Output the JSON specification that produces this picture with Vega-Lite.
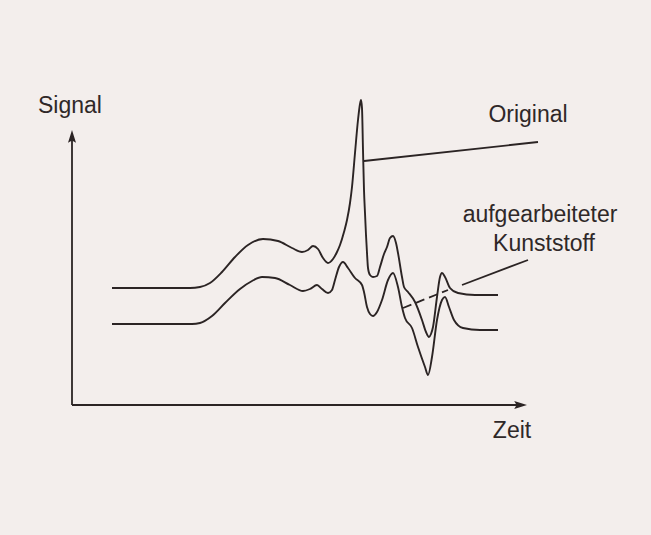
{
  "$schema": "https://vega.github.io/schema/vega-lite/v6.json",
  "width": 651,
  "height": 535,
  "padding": 0,
  "autosize": {"type": "none"},
  "background": "#f3eeec",
  "config": {"view": {"stroke": null}},
  "datasets": {
    "curves": [
      {"series":"Original","i":1,"t":40,"s":117},{"series":"Original","i":2,"t":118,"s":117},{"series":"Original","i":3,"t":128,"s":118},{"series":"Original","i":4,"t":138,"s":122},{"series":"Original","i":5,"t":150,"s":133},{"series":"Original","i":6,"t":163,"s":148},{"series":"Original","i":7,"t":176,"s":160},{"series":"Original","i":8,"t":191,"s":166},{"series":"Original","i":9,"t":206,"s":164},{"series":"Original","i":10,"t":220,"s":157},{"series":"Original","i":11,"t":230,"s":153},{"series":"Original","i":12,"t":236,"s":155},{"series":"Original","i":13,"t":241,"s":159},{"series":"Original","i":14,"t":246,"s":156},{"series":"Original","i":15,"t":251,"s":147},{"series":"Original","i":16,"t":256,"s":142},{"series":"Original","i":17,"t":261,"s":146},{"series":"Original","i":18,"t":265,"s":153},{"series":"Original","i":19,"t":268,"s":160},{"series":"Original","i":20,"t":272,"s":173},{"series":"Original","i":21,"t":275,"s":185},{"series":"Original","i":22,"t":278,"s":202},{"series":"Original","i":23,"t":280,"s":218},{"series":"Original","i":24,"t":283,"s":252},{"series":"Original","i":25,"t":286,"s":285},{"series":"Original","i":26,"t":288,"s":301},{"series":"Original","i":27,"t":289,"s":305},{"series":"Original","i":28,"t":290,"s":297},{"series":"Original","i":29,"t":291,"s":255},{"series":"Original","i":30,"t":292,"s":215},{"series":"Original","i":31,"t":293,"s":192},{"series":"Original","i":32,"t":294,"s":170},{"series":"Original","i":33,"t":295,"s":152},{"series":"Original","i":34,"t":296,"s":137},{"series":"Original","i":35,"t":298,"s":130},{"series":"Original","i":36,"t":301,"s":128},{"series":"Original","i":37,"t":305,"s":129},{"series":"Original","i":38,"t":308,"s":138},{"series":"Original","i":39,"t":312,"s":151},{"series":"Original","i":40,"t":315,"s":158},{"series":"Original","i":41,"t":318,"s":167},{"series":"Original","i":42,"t":321,"s":169},{"series":"Original","i":43,"t":324,"s":162},{"series":"Original","i":44,"t":326,"s":152},{"series":"Original","i":45,"t":330,"s":128},{"series":"Original","i":46,"t":332,"s":118},{"series":"Original","i":47,"t":336,"s":113},{"series":"Original","i":48,"t":343,"s":103},{"series":"Original","i":49,"t":350,"s":85},{"series":"Original","i":50,"t":354,"s":73},{"series":"Original","i":51,"t":357,"s":68},{"series":"Original","i":52,"t":359,"s":71},{"series":"Original","i":53,"t":361,"s":78},{"series":"Original","i":54,"t":365,"s":108},{"series":"Original","i":55,"t":368,"s":128},{"series":"Original","i":56,"t":370,"s":132},{"series":"Original","i":57,"t":373,"s":128},{"series":"Original","i":58,"t":378,"s":117},{"series":"Original","i":59,"t":386,"s":112},{"series":"Original","i":60,"t":403,"s":110},{"series":"Original","i":61,"t":426,"s":110},
      {"series":"Recycling","i":1,"t":40,"s":81},{"series":"Recycling","i":2,"t":120,"s":81},{"series":"Recycling","i":3,"t":128,"s":82},{"series":"Recycling","i":4,"t":140,"s":89},{"series":"Recycling","i":5,"t":153,"s":102},{"series":"Recycling","i":6,"t":168,"s":116},{"series":"Recycling","i":7,"t":180,"s":124},{"series":"Recycling","i":8,"t":190,"s":128},{"series":"Recycling","i":9,"t":203,"s":127},{"series":"Recycling","i":10,"t":218,"s":120},{"series":"Recycling","i":11,"t":231,"s":114},{"series":"Recycling","i":12,"t":238,"s":116},{"series":"Recycling","i":13,"t":245,"s":120},{"series":"Recycling","i":14,"t":250,"s":116},{"series":"Recycling","i":15,"t":256,"s":112},{"series":"Recycling","i":16,"t":260,"s":115},{"series":"Recycling","i":17,"t":263,"s":125},{"series":"Recycling","i":18,"t":267,"s":138},{"series":"Recycling","i":19,"t":271,"s":143},{"series":"Recycling","i":20,"t":276,"s":137},{"series":"Recycling","i":21,"t":283,"s":127},{"series":"Recycling","i":22,"t":290,"s":120},{"series":"Recycling","i":23,"t":292,"s":113},{"series":"Recycling","i":24,"t":295,"s":98},{"series":"Recycling","i":25,"t":298,"s":91},{"series":"Recycling","i":26,"t":301,"s":89},{"series":"Recycling","i":27,"t":305,"s":93},{"series":"Recycling","i":28,"t":310,"s":105},{"series":"Recycling","i":29,"t":316,"s":125},{"series":"Recycling","i":30,"t":321,"s":132},{"series":"Recycling","i":31,"t":326,"s":118},{"series":"Recycling","i":32,"t":330,"s":98},{"series":"Recycling","i":33,"t":333,"s":87},{"series":"Recycling","i":34,"t":340,"s":77},{"series":"Recycling","i":35,"t":346,"s":58},{"series":"Recycling","i":36,"t":353,"s":38},{"series":"Recycling","i":37,"t":356,"s":30},{"series":"Recycling","i":38,"t":360,"s":48},{"series":"Recycling","i":39,"t":365,"s":85},{"series":"Recycling","i":40,"t":370,"s":105},{"series":"Recycling","i":41,"t":373,"s":108},{"series":"Recycling","i":42,"t":377,"s":98},{"series":"Recycling","i":43,"t":382,"s":85},{"series":"Recycling","i":44,"t":391,"s":77},{"series":"Recycling","i":45,"t":408,"s":75},{"series":"Recycling","i":46,"t":426,"s":75}
    ],
    "leaders": [
      {"kind":"solid","t":292,"s":244,"t2":466,"s2":263},
      {"kind":"dashed","t":331,"s":97,"t2":376,"s2":115},
      {"kind":"solid","t":390,"s":120,"t2":456,"s2":145}
    ],
    "axes": [
      {"t":0,"s":0,"t2":0,"s2":270},
      {"t":0,"s":0,"t2":452,"s2":0}
    ],
    "arrows": [
      {"dir":"up","t":0,"s":267},
      {"dir":"right","t":447,"s":0}
    ],
    "labels": [
      {"text":"Signal","t":-2,"s":292},
      {"text":"Original","t":456,"s":283},
      {"text":"aufgearbeiteter","t":468,"s":183},
      {"text":"Kunststoff","t":472,"s":154},
      {"text":"Zeit","t":440,"s":-33}
    ]
  },
  "encoding": {
    "x": {"field":"t","type":"quantitative","scale":{"domain":[-72,579],"nice":false,"zero":false},"axis":null},
    "y": {"field":"s","type":"quantitative","scale":{"domain":[-130,405],"nice":false,"zero":false},"axis":null}
  },
  "layer": [
    {
      "data": {"name":"axes"},
      "mark": {"type":"rule","color":"#2b2424","strokeWidth":1.8},
      "encoding": {"x2":{"field":"t2"},"y2":{"field":"s2"}}
    },
    {
      "data": {"name":"arrows"},
      "transform": [{"filter":"datum.dir === 'up'"}],
      "mark": {"type":"point","filled":true,"color":"#2b2424","opacity":1,"size":256,"shape":"M0,-1L0.5,0.6L0,0.3L-0.5,0.6Z"},
      "encoding": {}
    },
    {
      "data": {"name":"arrows"},
      "transform": [{"filter":"datum.dir === 'right'"}],
      "mark": {"type":"point","filled":true,"color":"#2b2424","opacity":1,"size":256,"shape":"M1,0L-0.6,0.5L-0.3,0L-0.6,-0.5Z"},
      "encoding": {}
    },
    {
      "data": {"name":"curves"},
      "mark": {"type":"line","interpolate":"monotone","color":"#2b2424","strokeWidth":1.9},
      "encoding": {"detail":{"field":"series"},"order":{"field":"i","type":"quantitative"}}
    },
    {
      "data": {"name":"leaders"},
      "transform": [{"filter":"datum.kind === 'solid'"}],
      "mark": {"type":"rule","color":"#2b2424","strokeWidth":1.8},
      "encoding": {"x2":{"field":"t2"},"y2":{"field":"s2"}}
    },
    {
      "data": {"name":"leaders"},
      "transform": [{"filter":"datum.kind === 'dashed'"}],
      "mark": {"type":"rule","color":"#2b2424","strokeWidth":1.8,"strokeDash":[9,5]},
      "encoding": {"x2":{"field":"t2"},"y2":{"field":"s2"}}
    },
    {
      "data": {"name":"labels"},
      "mark": {"type":"text","font":"Liberation Sans","fontSize":23,"color":"#2f2828","align":"center","baseline":"alphabetic"},
      "encoding": {"text":{"field":"text"}}
    }
  ]
}
